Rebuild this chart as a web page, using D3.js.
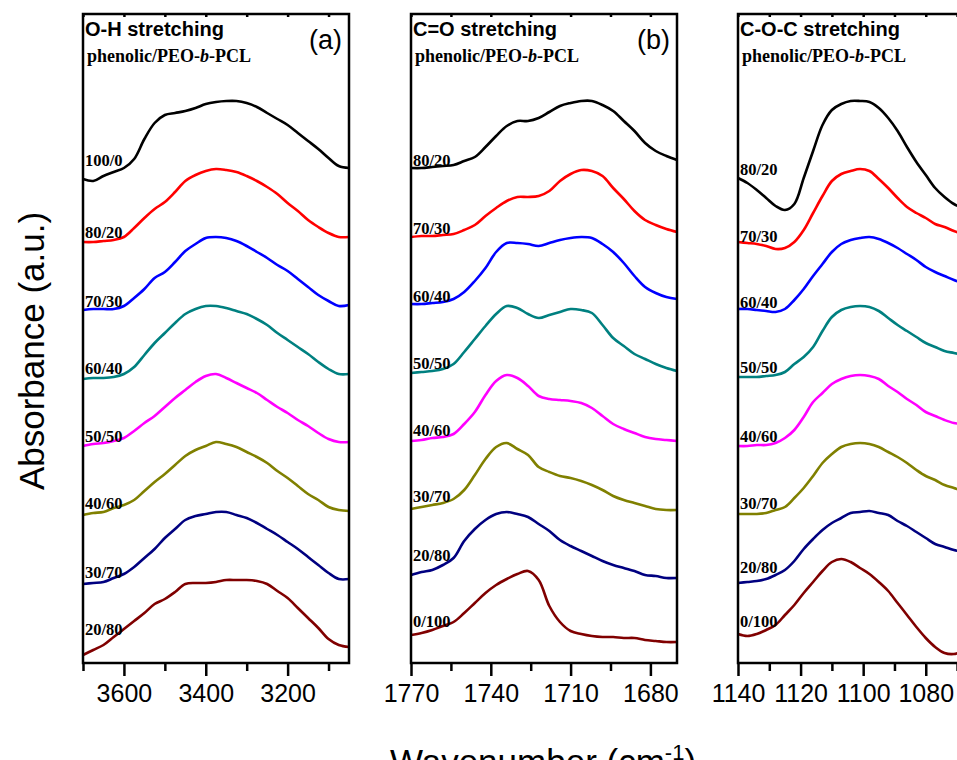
<!doctype html>
<html lang="en">
<head>
  <meta charset="UTF-8">
  <script src="https://cdn.jsdelivr.net/npm/d3@7"></script>
  <title>FTIR spectra</title>
  <style>
    body { margin: 0; background: #fff; }
    svg { display: block; }
    .axis text { font-family: Arial, "Liberation Sans", sans-serif; font-size: 25px; fill: #000; }
    .axis line { stroke: #000; stroke-width: 2.5; }
    .axis path { display: none; }
  </style>
</head>
<body>
  <div class="chart"></div>
  <script>
    // blend ratios phenolic/PEO-b-PCL
    const ratiosOH = ['100/0', '80/20', '70/30', '60/40', '50/50', '40/60', '30/70', '20/80'];
    const ratiosCO = ['80/20', '70/30', '60/40', '50/50', '40/60', '30/70', '20/80', '0/100'];
    const colors = ['#000000', '#ff0000', '#0000ff', '#008080', '#ff00ff', '#808000', '#000080', '#800000'];

    // (a) O-H stretching, wavenumbers in cm-1
    const ohWave = [3700, 3675, 3650, 3625, 3600, 3575, 3550, 3525, 3500, 3475, 3450, 3425, 3400, 3375,
      3350, 3325, 3300, 3275, 3250, 3225, 3200, 3175, 3150, 3125, 3100, 3075, 3050];
    const ohAbs = [
      [4.84, 4.82, 4.87, 4.91, 4.95, 5.04, 5.24, 5.40, 5.48, 5.50, 5.52, 5.55, 5.59, 5.61, 5.62, 5.62, 5.60, 5.56, 5.50, 5.44, 5.38, 5.30, 5.22, 5.14, 5.05, 4.97, 4.95],
      [4.21, 4.21, 4.22, 4.23, 4.26, 4.35, 4.45, 4.54, 4.61, 4.71, 4.82, 4.88, 4.92, 4.94, 4.93, 4.91, 4.87, 4.82, 4.76, 4.69, 4.60, 4.52, 4.43, 4.36, 4.30, 4.26, 4.26],
      [3.53, 3.54, 3.54, 3.54, 3.57, 3.65, 3.74, 3.85, 3.91, 4.01, 4.12, 4.19, 4.25, 4.26, 4.25, 4.22, 4.17, 4.11, 4.05, 3.98, 3.92, 3.84, 3.76, 3.68, 3.62, 3.57, 3.58],
      [2.84, 2.85, 2.85, 2.86, 2.89, 2.96, 3.08, 3.20, 3.30, 3.40, 3.49, 3.54, 3.57, 3.57, 3.55, 3.52, 3.49, 3.44, 3.38, 3.30, 3.23, 3.16, 3.09, 3.01, 2.94, 2.89, 2.89],
      [2.17, 2.19, 2.20, 2.22, 2.25, 2.32, 2.40, 2.47, 2.56, 2.65, 2.73, 2.81, 2.87, 2.89, 2.85, 2.80, 2.75, 2.70, 2.63, 2.56, 2.50, 2.43, 2.37, 2.30, 2.24, 2.21, 2.21],
      [1.48, 1.50, 1.51, 1.55, 1.58, 1.63, 1.72, 1.81, 1.89, 1.98, 2.07, 2.13, 2.17, 2.21, 2.19, 2.16, 2.11, 2.06, 2.00, 1.92, 1.85, 1.77, 1.69, 1.63, 1.56, 1.53, 1.52],
      [0.79, 0.80, 0.81, 0.85, 0.89, 0.96, 1.05, 1.14, 1.25, 1.34, 1.43, 1.47, 1.49, 1.51, 1.51, 1.48, 1.45, 1.40, 1.34, 1.28, 1.21, 1.14, 1.06, 0.98, 0.90, 0.84, 0.84],
      [0.08, 0.13, 0.18, 0.26, 0.34, 0.42, 0.50, 0.59, 0.64, 0.71, 0.79, 0.80, 0.80, 0.81, 0.83, 0.83, 0.83, 0.82, 0.79, 0.72, 0.65, 0.55, 0.45, 0.35, 0.24, 0.18, 0.16]
    ];
    const ohLabelAt = [4.97, 4.25, 3.56, 2.89, 2.21, 1.54, 0.85, 0.28];

    // (b) C=O stretching
    const coWave = [1770, 1766, 1762, 1758, 1754, 1750, 1746, 1742, 1738, 1734, 1730, 1726, 1722,
      1718, 1714, 1710, 1706, 1702, 1698, 1694, 1690, 1686, 1682, 1678, 1674, 1670];
    const coAbs = [
      [4.95, 4.95, 4.96, 4.97, 4.98, 5.02, 5.06, 5.16, 5.27, 5.37, 5.42, 5.42, 5.45, 5.51, 5.57, 5.60, 5.62, 5.62, 5.58, 5.52, 5.42, 5.32, 5.20, 5.12, 5.07, 5.03],
      [4.26, 4.27, 4.27, 4.28, 4.29, 4.33, 4.38, 4.47, 4.55, 4.62, 4.66, 4.66, 4.67, 4.72, 4.82, 4.89, 4.93, 4.92, 4.87, 4.75, 4.64, 4.52, 4.43, 4.38, 4.34, 4.31],
      [3.59, 3.59, 3.60, 3.61, 3.64, 3.71, 3.82, 3.95, 4.11, 4.20, 4.20, 4.19, 4.17, 4.20, 4.23, 4.25, 4.26, 4.25, 4.19, 4.11, 4.00, 3.87, 3.76, 3.70, 3.66, 3.64],
      [2.90, 2.91, 2.92, 2.94, 2.99, 3.11, 3.24, 3.37, 3.49, 3.57, 3.55, 3.49, 3.45, 3.48, 3.51, 3.54, 3.53, 3.50, 3.38, 3.25, 3.17, 3.09, 3.04, 2.99, 2.95, 2.92],
      [2.22, 2.23, 2.25, 2.26, 2.29, 2.39, 2.51, 2.68, 2.82, 2.88, 2.85, 2.77, 2.67, 2.64, 2.63, 2.62, 2.60, 2.55, 2.47, 2.39, 2.34, 2.30, 2.26, 2.24, 2.23, 2.22],
      [1.54, 1.56, 1.58, 1.60, 1.64, 1.73, 1.88, 2.04, 2.16, 2.20, 2.14, 2.08, 1.96, 1.91, 1.87, 1.85, 1.82, 1.78, 1.73, 1.67, 1.63, 1.60, 1.57, 1.54, 1.53, 1.53],
      [0.88, 0.91, 0.93, 0.98, 1.05, 1.22, 1.34, 1.43, 1.49, 1.51, 1.49, 1.46, 1.39, 1.32, 1.23, 1.17, 1.12, 1.07, 1.02, 0.98, 0.95, 0.92, 0.88, 0.87, 0.85, 0.85],
      [0.28, 0.30, 0.33, 0.37, 0.41, 0.50, 0.60, 0.70, 0.78, 0.84, 0.89, 0.92, 0.83, 0.57, 0.41, 0.32, 0.29, 0.27, 0.26, 0.26, 0.25, 0.25, 0.23, 0.22, 0.21, 0.21]
    ];
    const coLabelAt = [4.97, 4.29, 3.61, 2.94, 2.27, 1.61, 1.02, 0.36];

    // (c) C-O-C stretching
    const cocWave = [1140, 1137, 1134, 1131, 1128, 1125, 1122, 1119, 1116, 1113, 1110, 1107, 1104,
      1101, 1098, 1095, 1092, 1089, 1086, 1083, 1080, 1077, 1074, 1071, 1068, 1065];
    const cocAbs = [
      [4.85, 4.80, 4.73, 4.65, 4.57, 4.53, 4.59, 4.85, 5.12, 5.38, 5.53, 5.59, 5.62, 5.62, 5.61, 5.55, 5.45, 5.32, 5.16, 5.01, 4.88, 4.75, 4.66, 4.59, 4.55, 4.53],
      [4.21, 4.20, 4.19, 4.17, 4.14, 4.15, 4.21, 4.33, 4.50, 4.67, 4.82, 4.89, 4.92, 4.94, 4.92, 4.84, 4.75, 4.65, 4.56, 4.50, 4.45, 4.39, 4.36, 4.32, 4.29, 4.26],
      [3.54, 3.54, 3.53, 3.52, 3.51, 3.54, 3.63, 3.74, 3.87, 3.99, 4.11, 4.19, 4.23, 4.25, 4.26, 4.24, 4.20, 4.15, 4.09, 4.03, 3.96, 3.91, 3.87, 3.83, 3.80, 3.78],
      [2.86, 2.86, 2.86, 2.87, 2.88, 2.91, 2.99, 3.06, 3.16, 3.32, 3.46, 3.53, 3.56, 3.57, 3.56, 3.52, 3.45, 3.38, 3.32, 3.26, 3.20, 3.16, 3.12, 3.10, 3.08, 3.06],
      [2.17, 2.17, 2.18, 2.18, 2.20, 2.25, 2.33, 2.46, 2.61, 2.70, 2.79, 2.84, 2.87, 2.88, 2.87, 2.84, 2.77, 2.71, 2.64, 2.58, 2.51, 2.47, 2.43, 2.40, 2.39, 2.38],
      [1.49, 1.49, 1.49, 1.50, 1.53, 1.56, 1.65, 1.75, 1.87, 2.00, 2.09, 2.16, 2.19, 2.20, 2.19, 2.16, 2.11, 2.06, 2.00, 1.93, 1.87, 1.83, 1.78, 1.75, 1.72, 1.70],
      [0.80, 0.81, 0.82, 0.84, 0.88, 0.93, 1.02, 1.14, 1.24, 1.33, 1.40, 1.45, 1.50, 1.51, 1.52, 1.50, 1.48, 1.42, 1.37, 1.31, 1.25, 1.19, 1.16, 1.13, 1.11, 1.10],
      [0.29, 0.27, 0.29, 0.33, 0.38, 0.48, 0.58, 0.70, 0.81, 0.92, 1.01, 1.04, 1.01, 0.95, 0.89, 0.81, 0.72, 0.60, 0.48, 0.36, 0.25, 0.16, 0.10, 0.09, 0.12, 0.15]
    ];
    const cocLabelAt = [4.88, 4.21, 3.55, 2.90, 2.21, 1.54, 0.90, 0.36];

    const W = 957, H = 760;
    const plotTop = 14, plotBottom = 663, panelW = 266;

    const panels = [
      { title: 'O-H stretching', tag: '(a)', left: 83, domain: [3700, 3050], wave: ohWave, abs: ohAbs,
        ratios: ratiosOH, labelAt: ohLabelAt, major: [3600, 3400, 3200], minor: [3700, 3500, 3300, 3100] },
      { title: 'C=O stretching', tag: '(b)', left: 411, domain: [1770, 1670], wave: coWave, abs: coAbs,
        ratios: ratiosCO, labelAt: coLabelAt, major: [1770, 1740, 1710, 1680], minor: [1755, 1725, 1695] },
      { title: 'C-O-C stretching', tag: '(c)', left: 738, domain: [1140, 1055], wave: cocWave, abs: cocAbs,
        ratios: ratiosCO, labelAt: cocLabelAt, major: [1140, 1120, 1100, 1080, 1060], minor: [1130, 1110, 1090, 1070] }
    ];

    const svg = d3.select('.chart').append('svg')
      .attr('width', W).attr('height', H);

    const y = d3.scaleLinear().domain([0, 6.49]).range([plotBottom, plotTop]);

    panels.forEach(p => {
      const x = d3.scaleLinear().domain(p.domain).range([p.left, p.left + panelW]);
      const g = svg.append('g');

      // bottom axis: major with labels, minor without
      g.append('g').attr('class', 'axis').attr('transform', `translate(0,${plotBottom})`)
        .call(d3.axisBottom(x).tickValues(p.major).tickSize(13).tickPadding(8).tickFormat(d3.format('d')));
      g.append('g').attr('class', 'axis').attr('transform', `translate(0,${plotBottom})`)
        .call(d3.axisBottom(x).tickValues(p.minor).tickSize(8).tickFormat(''));
      // small inward ticks on the top edge
      g.append('g').attr('class', 'axis').attr('transform', `translate(0,${plotTop})`)
        .call(d3.axisTop(x).tickValues(p.major.concat(p.minor)).tickSize(-3).tickFormat(''));

      const line = d3.line()
        .x((d, i) => x(p.wave[i]))
        .y(d => y(d))
        .curve(d3.curveCatmullRom.alpha(0.5));

      p.abs.forEach((s, k) => {
        g.append('path').attr('d', line(s))
          .attr('fill', 'none').attr('stroke', colors[k]).attr('stroke-width', 2.6)
          .attr('stroke-linejoin', 'round');
      });

      p.ratios.forEach((r, k) => {
        g.append('text').attr('x', p.left + 2).attr('y', y(p.labelAt[k]))
          .attr('font-family', '"Liberation Serif", "Times New Roman", serif')
          .attr('font-weight', 'bold').attr('font-size', 16.5).text(r);
      });

      // frame
      g.append('rect').attr('x', p.left).attr('y', plotTop).attr('width', panelW).attr('height', plotBottom - plotTop)
        .attr('fill', 'none').attr('stroke', '#000').attr('stroke-width', 2.5);

      g.append('text').attr('x', p.left + 2).attr('y', 36)
        .attr('font-family', 'Arial, "Liberation Sans", sans-serif').attr('font-weight', 'bold')
        .attr('font-size', 20).text(p.title);
      const sub = g.append('text').attr('x', p.left + 4).attr('y', 62)
        .attr('font-family', '"Liberation Serif", "Times New Roman", serif').attr('font-weight', 'bold')
        .attr('font-size', 18);
      sub.append('tspan').text('phenolic/PEO-');
      sub.append('tspan').attr('font-style', 'italic').text('b');
      sub.append('tspan').text('-PCL');
      g.append('text').attr('x', p.left + panelW - 7).attr('y', 49).attr('text-anchor', 'end')
        .attr('font-family', 'Arial, "Liberation Sans", sans-serif').attr('font-size', 27).text(p.tag);
    });

    svg.append('text').attr('transform', 'translate(44,351) rotate(-90)').attr('text-anchor', 'middle')
      .attr('font-family', 'Arial, "Liberation Sans", sans-serif').attr('font-size', 35)
      .text('Absorbance (a.u.)');

    const xl = svg.append('text').attr('x', 543).attr('y', 774).attr('text-anchor', 'middle')
      .attr('font-family', 'Arial, "Liberation Sans", sans-serif').attr('font-size', 35);
    xl.append('tspan').text('Wavenumber (cm');
    xl.append('tspan').attr('font-size', 22).attr('dy', -14).text('-1');
    xl.append('tspan').attr('dy', 14).text(')');
  </script>
</body>
</html>
